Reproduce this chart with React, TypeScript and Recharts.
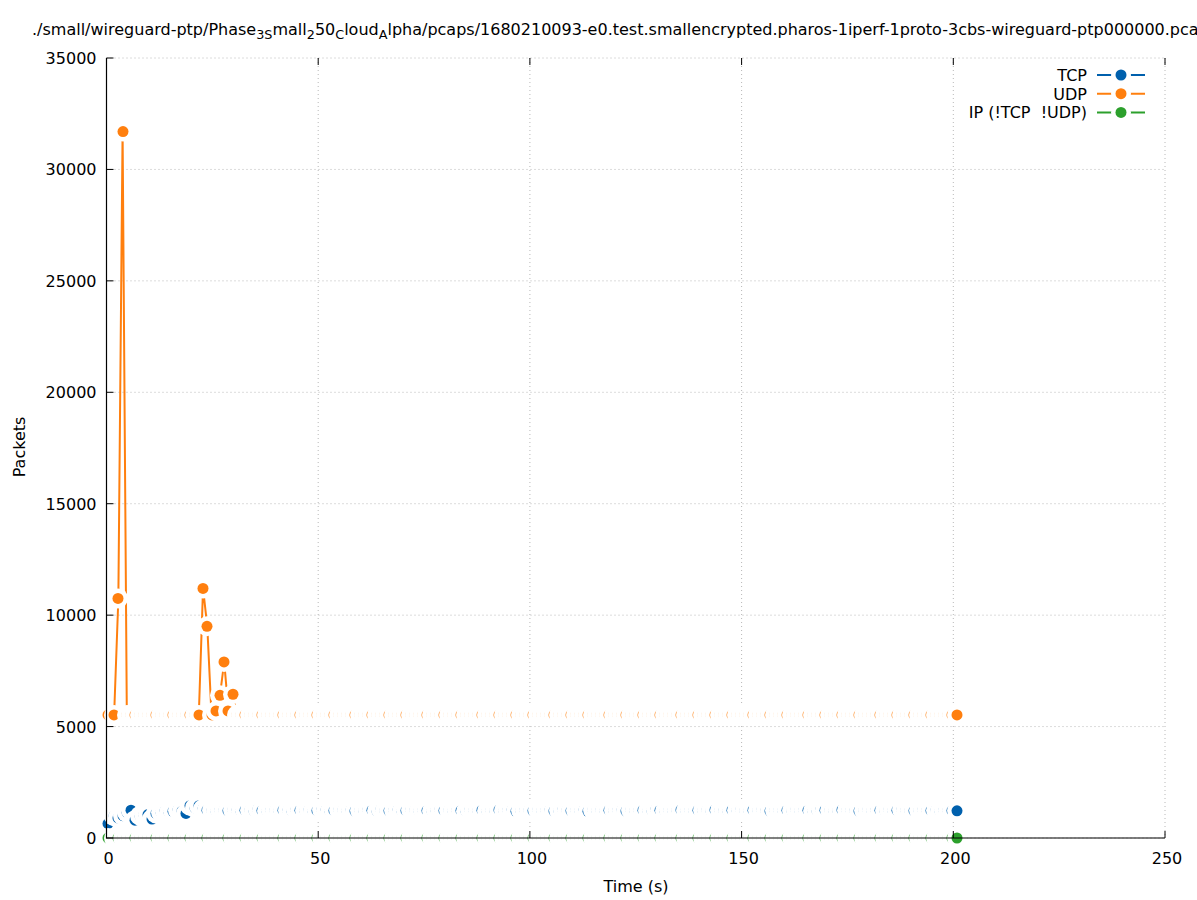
import React from "react";
import { ComposedChart, Line, XAxis, YAxis, CartesianGrid } from "recharts";

// one-second bins (first bin is partial), seconds
const times = [
  0.4, 1.8, 2.8, 3.8, 4.8, 5.8, 6.8, 7.8, 8.8, 9.8, 10.8, 11.8, 12.8, 13.8, 14.8, 15.8, 16.8, 17.8, 18.8, 19.8,
  20.8, 21.8, 22.8, 23.8, 24.8, 25.8, 26.8, 27.8, 28.8, 29.8, 30.8, 31.8, 32.8, 33.8, 34.8, 35.8, 36.8, 37.8, 38.8, 39.8,
  40.8, 41.8, 42.8, 43.8, 44.8, 45.8, 46.8, 47.8, 48.8, 49.8, 50.8, 51.8, 52.8, 53.8, 54.8, 55.8, 56.8, 57.8, 58.8, 59.8,
  60.8, 61.8, 62.8, 63.8, 64.8, 65.8, 66.8, 67.8, 68.8, 69.8, 70.8, 71.8, 72.8, 73.8, 74.8, 75.8, 76.8, 77.8, 78.8, 79.8,
  80.8, 81.8, 82.8, 83.8, 84.8, 85.8, 86.8, 87.8, 88.8, 89.8, 90.8, 91.8, 92.8, 93.8, 94.8, 95.8, 96.8, 97.8, 98.8, 99.8,
  100.8, 101.8, 102.8, 103.8, 104.8, 105.8, 106.8, 107.8, 108.8, 109.8, 110.8, 111.8, 112.8, 113.8, 114.8, 115.8, 116.8, 117.8, 118.8, 119.8,
  120.8, 121.8, 122.8, 123.8, 124.8, 125.8, 126.8, 127.8, 128.8, 129.8, 130.8, 131.8, 132.8, 133.8, 134.8, 135.8, 136.8, 137.8, 138.8, 139.8,
  140.8, 141.8, 142.8, 143.8, 144.8, 145.8, 146.8, 147.8, 148.8, 149.8, 150.8, 151.8, 152.8, 153.8, 154.8, 155.8, 156.8, 157.8, 158.8, 159.8,
  160.8, 161.8, 162.8, 163.8, 164.8, 165.8, 166.8, 167.8, 168.8, 169.8, 170.8, 171.8, 172.8, 173.8, 174.8, 175.8, 176.8, 177.8, 178.8, 179.8,
  180.8, 181.8, 182.8, 183.8, 184.8, 185.8, 186.8, 187.8, 188.8, 189.8, 190.8, 191.8, 192.8, 193.8, 194.8, 195.8, 196.8, 197.8, 198.8, 199.8,
  200.8,
];

const tcpPackets = [
  650, 980, 900, 1000, 1150, 1250, 800, 1000, 1050, 1050, 850, 1100, 1150, 1200, 1150, 1200, 1250, 1200, 1100, 1450,
  1350, 1450, 1300, 1250, 1230, 1210, 1250, 1240, 1220, 1260, 1230, 1200, 1240, 1250, 1220, 1280, 1230, 1210, 1250, 1240,
  1220, 1250, 1230, 1200, 1260, 1240, 1220, 1250, 1210, 1230, 1270, 1240, 1200, 1230, 1260, 1250, 1220, 1240, 1210, 1250,
  1230, 1260, 1240, 1210, 1280, 1230, 1220, 1250, 1240, 1200, 1230, 1260, 1250, 1220, 1240, 1230, 1210, 1250, 1270, 1230,
  1240, 1220, 1250, 1230, 1200, 1260, 1240, 1230, 1250, 1210, 1240, 1230, 1260, 1220, 1250, 1240, 1200, 1230, 1250, 1240,
  1220, 1260, 1230, 1240, 1250, 1210, 1230, 1270, 1240, 1220, 1250, 1230, 1240, 1200, 1260, 1230, 1250, 1220, 1240, 1230,
  1250, 1240, 1210, 1260, 1230, 1240, 1250, 1220, 1230, 1280, 1240, 1210, 1250, 1230, 1240, 1260, 1220, 1250, 1230, 1240,
  1230, 1250, 1220, 1260, 1240, 1230, 1210, 1250, 1240, 1270, 1230, 1220, 1250, 1240, 1260, 1230, 1210, 1240, 1250, 1230,
  1240, 1220, 1260, 1230, 1250, 1240, 1210, 1230, 1280, 1250, 1240, 1220, 1230, 1260, 1240, 1250, 1230, 1210, 1240, 1260,
  1230, 1250, 1240, 1220, 1260, 1230, 1240, 1270, 1250, 1230, 1220, 1240, 1260, 1250, 1230, 1240, 1210, 1250, 1240, 1230,
  1220,
];

const udpPackets = [
  5520, 5520, 10750, 31700, 5520, 5520, 5520, 5520, 5520, 5520, 5520, 5520, 5520, 5520, 5520, 5520, 5520, 5520, 5520, 5520,
  5520, 5520, 11200, 9500, 5520, 5700, 6400, 7900, 5700, 6450, 5520, 5520, 5520, 5520, 5520, 5520, 5520, 5520, 5520, 5520,
  5520, 5520, 5520, 5520, 5520, 5520, 5520, 5520, 5520, 5520, 5520, 5520, 5520, 5520, 5520, 5520, 5520, 5520, 5520, 5520,
  5520, 5520, 5520, 5520, 5520, 5520, 5520, 5520, 5520, 5520, 5520, 5520, 5520, 5520, 5520, 5520, 5520, 5520, 5520, 5520,
  5520, 5520, 5520, 5520, 5520, 5520, 5520, 5520, 5520, 5520, 5520, 5520, 5520, 5520, 5520, 5520, 5520, 5520, 5520, 5520,
  5520, 5520, 5520, 5520, 5520, 5520, 5520, 5520, 5520, 5520, 5520, 5520, 5520, 5520, 5520, 5520, 5520, 5520, 5520, 5520,
  5520, 5520, 5520, 5520, 5520, 5520, 5520, 5520, 5520, 5520, 5520, 5520, 5520, 5520, 5520, 5520, 5520, 5520, 5520, 5520,
  5520, 5520, 5520, 5520, 5520, 5520, 5520, 5520, 5520, 5520, 5520, 5520, 5520, 5520, 5520, 5520, 5520, 5520, 5520, 5520,
  5520, 5520, 5520, 5520, 5520, 5520, 5520, 5520, 5520, 5520, 5520, 5520, 5520, 5520, 5520, 5520, 5520, 5520, 5520, 5520,
  5520, 5520, 5520, 5520, 5520, 5520, 5520, 5520, 5520, 5520, 5520, 5520, 5520, 5520, 5520, 5520, 5520, 5520, 5520, 5520,
  5520,
];

const ipPackets = [
  0, 0, 0, 0, 0, 0, 0, 0, 0, 0, 0, 0, 0, 0, 0, 0, 0, 0, 0, 0,
  0, 0, 0, 0, 0, 0, 0, 0, 0, 0, 0, 0, 0, 0, 0, 0, 0, 0, 0, 0,
  0, 0, 0, 0, 0, 0, 0, 0, 0, 0, 0, 0, 0, 0, 0, 0, 0, 0, 0, 0,
  0, 0, 0, 0, 0, 0, 0, 0, 0, 0, 0, 0, 0, 0, 0, 0, 0, 0, 0, 0,
  0, 0, 0, 0, 0, 0, 0, 0, 0, 0, 0, 0, 0, 0, 0, 0, 0, 0, 0, 0,
  0, 0, 0, 0, 0, 0, 0, 0, 0, 0, 0, 0, 0, 0, 0, 0, 0, 0, 0, 0,
  0, 0, 0, 0, 0, 0, 0, 0, 0, 0, 0, 0, 0, 0, 0, 0, 0, 0, 0, 0,
  0, 0, 0, 0, 0, 0, 0, 0, 0, 0, 0, 0, 0, 0, 0, 0, 0, 0, 0, 0,
  0, 0, 0, 0, 0, 0, 0, 0, 0, 0, 0, 0, 0, 0, 0, 0, 0, 0, 0, 0,
  0, 0, 0, 0, 0, 0, 0, 0, 0, 0, 0, 0, 0, 0, 0, 0, 0, 0, 0, 0,
  0,
];

const xTicks = [0, 50, 100, 150, 200, 250];
const yTicks = [0, 5000, 10000, 15000, 20000, 25000, 30000, 35000];

const series = [
  { key: "tcp", name: "TCP", color: "#0060ad" },
  { key: "udp", name: "UDP", color: "#ff7f0e" },
  { key: "ip", name: "IP (!TCP  !UDP)", color: "#2ca02c" },
];

const data = times.map((t, i) => ({
  t,
  tcp: tcpPackets[i],
  udp: udpPackets[i],
  ip: ipPackets[i],
}));

const FONT = "DejaVu Sans, sans-serif";

// plot box (pixels), shared by chart margins and the border overlay
const PLOT_LEFT = 106.5;
const PLOT_TOP = 58;
const PLOT_RIGHT = 1165;
const PLOT_BOTTOM = 838;

// gnuplot style point: white blanking disk under a filled circle
const makeDot = (color: string) => (props: any) => {
  const { cx, cy, index } = props;
  if (cx == null || cy == null) return <g key={`e-${color}-${index}`} />;
  const x = Math.round(cx);
  return (
    <g key={`d-${color}-${index}`}>
      <circle cx={x} cy={cy} r={10} fill="#ffffff" />
      <circle cx={x} cy={cy} r={5.5} fill={color} />
    </g>
  );
};

const BottomTick = (props: any) => {
  const { x, y, payload } = props;
  return (
    <g>
      <line x1={x} y1={y} x2={x} y2={y - 7} stroke="#000" strokeWidth={1} />
      <text x={x + 2} y={y + 26} textAnchor="middle" fontFamily={FONT} fontSize={16} fill="#000">
        {payload.value}
      </text>
    </g>
  );
};

const LeftTick = (props: any) => {
  const { x, y, payload } = props;
  return (
    <g>
      <line x1={x} y1={y} x2={x + 7} y2={y} stroke="#000" strokeWidth={1} />
      <text x={x - 10} y={y + 6} textAnchor="end" fontFamily={FONT} fontSize={16} fill="#000">
        {payload.value}
      </text>
    </g>
  );
};

const TopTick = (props: any) => {
  const { x, y } = props;
  return <line x1={x} y1={y} x2={x} y2={y + 7} stroke="#000" strokeWidth={1} />;
};

const RightTick = (props: any) => {
  const { x, y } = props;
  return <line x1={x} y1={y} x2={x - 7} y2={y} stroke="#000" strokeWidth={1} />;
};

export default function App() {
  return (
    <div style={{ position: "absolute", left: 0, top: 0, width: 1197, height: 900, overflow: "hidden", background: "#fff" }}>
      <ComposedChart
        width={1197}
        height={900}
        data={data}
        margin={{ top: PLOT_TOP - 1, right: 1197 - PLOT_RIGHT - 1, bottom: 0, left: 0 }}
      >
        <CartesianGrid stroke="#b8b8b8" strokeDasharray="1 3" strokeWidth={1} />
        <XAxis
          dataKey="t"
          type="number"
          domain={[0, 250]}
          ticks={xTicks}
          interval={0}
          height={900 - PLOT_BOTTOM}
          tickSize={0}
          tickMargin={0}
          tickLine={false}
          axisLine={false}
          tick={(p: any) => <BottomTick {...p} />}
        />
        <XAxis
          xAxisId="top"
          orientation="top"
          dataKey="t"
          type="number"
          domain={[0, 250]}
          ticks={xTicks}
          interval={0}
          height={1}
          tickSize={0}
          tickMargin={0}
          tickLine={false}
          axisLine={false}
          tick={(p: any) => <TopTick {...p} />}
        />
        <YAxis
          type="number"
          domain={[0, 35000]}
          ticks={yTicks}
          interval={0}
          width={PLOT_LEFT}
          tickSize={0}
          tickMargin={0}
          tickLine={false}
          axisLine={false}
          tick={(p: any) => <LeftTick {...p} />}
        />
        <YAxis
          yAxisId="right"
          orientation="right"
          type="number"
          domain={[0, 35000]}
          ticks={yTicks}
          interval={0}
          width={1}
          tickSize={0}
          tickMargin={0}
          tickLine={false}
          axisLine={false}
          tick={(p: any) => <RightTick {...p} />}
        />
        {series.map((s) => (
          <Line
            key={s.key}
            dataKey={s.key}
            name={s.name}
            type="linear"
            stroke={s.color}
            strokeWidth={2}
            dot={makeDot(s.color)}
            activeDot={false}
            isAnimationActive={false}
          />
        ))}
      </ComposedChart>

      <svg width={1197} height={900} style={{ position: "absolute", left: 0, top: 0, pointerEvents: "none" }}>
        {/* border drawn in front, as gnuplot does */}
        <line x1={PLOT_LEFT} y1={PLOT_TOP} x2={PLOT_LEFT} y2={PLOT_BOTTOM + 0.5} stroke="#000" strokeWidth={1.2} />
        <line x1={PLOT_LEFT} y1={PLOT_BOTTOM} x2={PLOT_RIGHT} y2={PLOT_BOTTOM} stroke="#000" strokeWidth={1.2} />
        <text x={32} y={35} fontFamily={FONT} fontSize={16} fill="#000">
          ./small/wireguard-ptp/Phase
          <tspan fontSize={12.8} dy={4}>3S</tspan>
          <tspan dy={-4}>mall</tspan>
          <tspan fontSize={12.8} dy={4}>2</tspan>
          <tspan dy={-4}>50</tspan>
          <tspan fontSize={12.8} dy={4}>C</tspan>
          <tspan dy={-4}>loud</tspan>
          <tspan fontSize={12.8} dy={4}>A</tspan>
          <tspan dy={-4}>lpha/pcaps/1680210093-e0.test.smallencrypted.pharos-1iperf-1proto-3cbs-wireguard-ptp000000.pcap</tspan>
        </text>
        <text x={636} y={892} textAnchor="middle" fontFamily={FONT} fontSize={16} fill="#000">
          Time (s)
        </text>
        <text x={25} y={447} textAnchor="middle" fontFamily={FONT} fontSize={16} fill="#000" transform="rotate(-90, 25, 447)">
          Packets
        </text>
        {series.map((s, i) => {
          const cy = 75 + i * 18.7;
          return (
            <g key={s.key}>
              <text x={1087} y={cy + 6} textAnchor="end" fontFamily={FONT} fontSize={16} fill="#000" style={{ whiteSpace: "pre" }}>
                {s.name}
              </text>
              <line x1={1097} y1={cy} x2={1145} y2={cy} stroke={s.color} strokeWidth={2} />
              <circle cx={1121} cy={cy} r={10} fill="#fff" />
              <circle cx={1121} cy={cy} r={5.5} fill={s.color} />
            </g>
          );
        })}
      </svg>
    </div>
  );
}
